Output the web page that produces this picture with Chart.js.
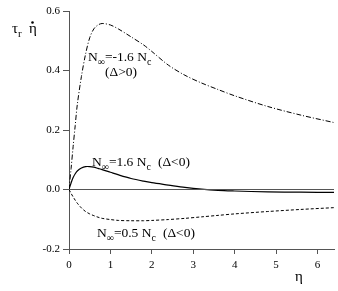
<!DOCTYPE html>
<html>
<head>
<meta charset="utf-8">
<script src="https://cdn.jsdelivr.net/npm/chart.js@4/dist/chart.umd.min.js"></script>
<style>
  html, body { margin: 0; padding: 0; background: #fff; }
  #wrap { width: 338px; height: 291px; position: relative; }
</style>
</head>
<body>
<div id="wrap"><canvas id="c"></canvas></div>
<script>
// ── DATA ─────────────────────────────────────────────────────
var eta = [0, 0.05, 0.1, 0.15, 0.2, 0.3, 0.4, 0.5, 0.6, 0.7, 0.8, 1.0, 1.2, 1.5, 1.8, 2.0, 2.4, 2.8, 3.2, 3.6, 4.0, 4.8, 5.6, 6.4];
// N∞ = -1.6 Nc (Δ>0), dash-dot
var negN16 = [0, 0.07, 0.145, 0.215, 0.285, 0.38, 0.455, 0.51, 0.54, 0.553, 0.558, 0.553, 0.539, 0.513, 0.486, 0.464, 0.418, 0.384, 0.358, 0.336, 0.315, 0.279, 0.25, 0.225];
// N∞ = 1.6 Nc (Δ<0), solid
var posN16 = [0, 0.022, 0.04, 0.053, 0.062, 0.072, 0.077, 0.077, 0.075, 0.071, 0.067, 0.058, 0.049, 0.037, 0.028, 0.023, 0.015, 0.007, 0.001, -0.003, -0.005, -0.008, -0.009, -0.01];
// N∞ = 0.5 Nc (Δ<0), dashed
var posN05 = [0, -0.013, -0.025, -0.036, -0.046, -0.062, -0.074, -0.082, -0.088, -0.093, -0.097, -0.101, -0.104, -0.105, -0.105, -0.104, -0.101, -0.097, -0.092, -0.087, -0.082, -0.074, -0.067, -0.061];
var zeroLineX = [0, 6.4];
var zeroLineY = [0, 0];
var xTicks = [0, 1, 2, 3, 4, 5, 6];
var yTicks = [-0.2, 0.0, 0.2, 0.4, 0.6];

function pts(xs, ys) {
  return xs.map(function (x, i) { return { x: x, y: ys[i] }; });
}

var SERIF = '"Liberation Serif", "Times New Roman", serif';
var AXIS_COLOR = '#555';

// ── TEXT HELPERS ─────────────────────────────────────────────
// parts: [text, isSub]
function drawParts(ctx, x, y, parts, size) {
  var cx = x;
  parts.forEach(function (p) {
    var sub = p[1];
    ctx.font = (sub ? Math.round(size * 0.75) : size) + 'px ' + SERIF;
    ctx.fillText(p[0], cx, sub ? y + size * 0.28 : y);
    cx += ctx.measureText(p[0]).width;
  });
  return cx;
}

var labelsPlugin = {
  id: 'labels',
  afterDraw: function (chart) {
    var ctx = chart.ctx;
    ctx.save();
    ctx.fillStyle = '#000';
    ctx.textBaseline = 'alphabetic';
    ctx.textAlign = 'left';

    drawParts(ctx, 88, 61, [['N'], ['∞', 1], ['=-1.6 N'], ['c', 1]], 13.5);
    drawParts(ctx, 105, 76, [['(Δ>0)']], 13.5);
    var e1 = drawParts(ctx, 92, 166, [['N'], ['∞', 1], ['=1.6 N'], ['c', 1]], 13.5);
    drawParts(ctx, e1 + 7, 166, [['(Δ<0)']], 13.5);
    var e2 = drawParts(ctx, 97, 237, [['N'], ['∞', 1], ['=0.5 N'], ['c', 1]], 13.5);
    drawParts(ctx, e2 + 7, 237, [['(Δ<0)']], 13.5);

    // y title: τr η̇
    drawParts(ctx, 12, 33, [['τ'], ['r', 1]], 15);
    ctx.font = '15px ' + SERIF;
    ctx.fillText('η', 29, 33);
    ctx.beginPath();
    ctx.arc(32.5, 22.5, 1.3, 0, Math.PI * 2);
    ctx.fill();

    // x title
    ctx.font = '15px ' + SERIF;
    ctx.fillText('η', 295, 281);
    ctx.restore();
  }
};

// ── CHART ────────────────────────────────────────────────────
new Chart(document.getElementById('c'), {
  type: 'line',
  data: {
    datasets: [
      { data: pts(zeroLineX, zeroLineY), borderColor: AXIS_COLOR, borderWidth: 1, pointRadius: 0, tension: 0 },
      { data: pts(eta, negN16), borderColor: '#000', borderWidth: 1, borderDash: [5, 2, 1, 2], pointRadius: 0, tension: 0.3 },
      { data: pts(eta, posN16), borderColor: '#000', borderWidth: 1.2, pointRadius: 0, tension: 0.3 },
      { data: pts(eta, posN05), borderColor: '#000', borderWidth: 1, borderDash: [3, 2], pointRadius: 0, tension: 0.3 }
    ]
  },
  options: {
    responsive: true,
    maintainAspectRatio: false,
    animation: false,
    layout: { padding: { top: 11, right: 4, left: 0, bottom: 0 } },
    plugins: { legend: { display: false }, tooltip: { enabled: false } },
    scales: {
      x: {
        type: 'linear', min: 0, max: 6.4,
        afterFit: function (s) { s.height = 42; },
        afterBuildTicks: function (s) { s.ticks = xTicks.map(function (v) { return { value: v }; }); },
        grid: { display: true, drawOnChartArea: false, drawTicks: true, tickLength: 5, color: AXIS_COLOR },
        border: { display: true, color: AXIS_COLOR },
        ticks: { color: '#000', padding: 5, maxRotation: 0, font: { family: SERIF, size: 11 } }
      },
      y: {
        type: 'linear', min: -0.2, max: 0.6,
        afterFit: function (s) { s.width = 69; },
        afterBuildTicks: function (s) { s.ticks = yTicks.map(function (v) { return { value: v }; }); },
        grid: { display: true, drawOnChartArea: false, drawTicks: true, tickLength: 6, color: AXIS_COLOR },
        border: { display: true, color: AXIS_COLOR },
        ticks: {
          color: '#000', padding: 3, font: { family: SERIF, size: 11 },
          callback: function (v) { return v.toFixed(1); }
        }
      }
    }
  },
  plugins: [labelsPlugin]
});
</script>
</body>
</html>
